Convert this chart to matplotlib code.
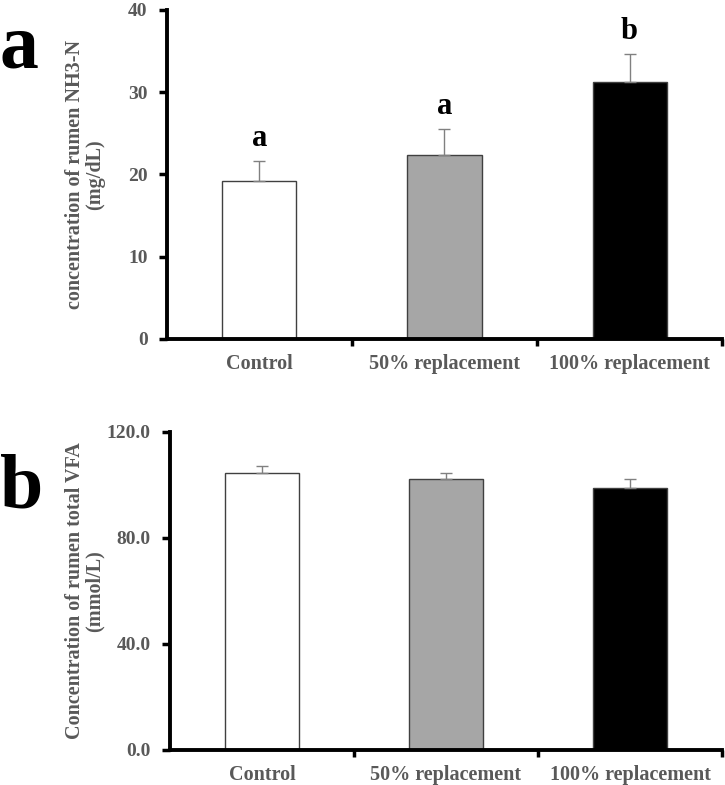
import matplotlib
matplotlib.use("Agg")
import matplotlib.pyplot as plt

categories = ["Control", "50% replacement", "100% replacement"]
nh3_mean = [19.2, 22.4, 31.3]
nh3_se = [2.4, 3.1, 3.3]
nh3_letters = ["a", "a", "b"]
vfa_mean = [104.6, 102.3, 99.0]
vfa_se = [2.6, 2.3, 3.3]
bar_colors = ["#ffffff", "#a6a6a6", "#000000"]
nh3_ticks = [0, 10, 20, 30, 40]
vfa_ticks = [0.0, 40.0, 80.0, 120.0]

plt.rcParams['font.family'] = ['Liberation Serif', 'DejaVu Serif']
plt.rcParams['font.weight'] = 'bold'

fig = plt.figure(figsize=(7.25, 7.85), dpi=100)
ax1 = fig.add_axes([0.2303, 0.5682, 0.7656, 0.4191])
ax2 = fig.add_axes([0.2345, 0.0446, 0.7614, 0.4051])

tick_gray = "#595959"

def style(ax, means, ses, yticks, ylim, fmt, ylabel, label_x):
    x = list(range(len(categories)))
    ax.bar(x, means, width=0.4, color=bar_colors, edgecolor="#404040", linewidth=1.0, zorder=2)
    ax.errorbar(x, means, yerr=[[0] * len(ses), ses], fmt='none', ecolor="#808080",
                elinewidth=1.0, capsize=4, capthick=1.0, zorder=3)
    ax.set_xlim(-0.5, 2.5)
    ax.set_ylim(*ylim)
    ax.set_yticks(yticks)
    ax.set_yticklabels([fmt.format(v) for v in yticks], fontsize=14, color=tick_gray, fontweight='bold')
    ax.set_xticks(x)
    ax.set_xticklabels(categories, fontsize=14.5, color=tick_gray, fontweight='bold')
    ax.set_xticks([0.5, 1.5, 2.5], minor=True)
    ax.tick_params(axis='x', which='major', length=0, pad=11)
    ax.tick_params(axis='x', which='minor', length=5, width=2.5, direction='out', color='black')
    ax.tick_params(axis='y', which='major', length=6, width=2.5, direction='out', color='black', pad=8)
    for s in ['top', 'right']:
        ax.spines[s].set_visible(False)
    for s in ['left', 'bottom']:
        ax.spines[s].set_linewidth(2.8)
        ax.spines[s].set_color('black')
    ax.set_ylabel(ylabel, fontsize=14.5, color=tick_gray, fontweight='bold', linespacing=1.0)
    ax.yaxis.set_label_coords(label_x, 0.5)

style(ax1, nh3_mean, nh3_se, nh3_ticks, (0, 40), "{:.0f}",
      "concentration of rumen NH3-N\n(mg/dL)", -0.112)
style(ax2, vfa_mean, vfa_se, vfa_ticks, (0, 120), "{:.1f}",
      "Concentration of rumen total VFA\n(mmol/L)", -0.118)

for i, (m, s, t) in enumerate(zip(nh3_mean, nh3_se, nh3_letters)):
    ax1.annotate(t, xy=(i, m + s), xytext=(0, 11), textcoords='offset points',
                 ha='center', va='baseline', fontsize=22, fontweight='bold', color='black')

fig.text(0.0, 0.9134, "a", fontsize=56, fontweight='bold', color='black', va='baseline', ha='left')
fig.text(0.0, 0.3529, "b", fontsize=56, fontweight='bold', color='black', va='baseline', ha='left')

fig.savefig("out.png", dpi=100)
